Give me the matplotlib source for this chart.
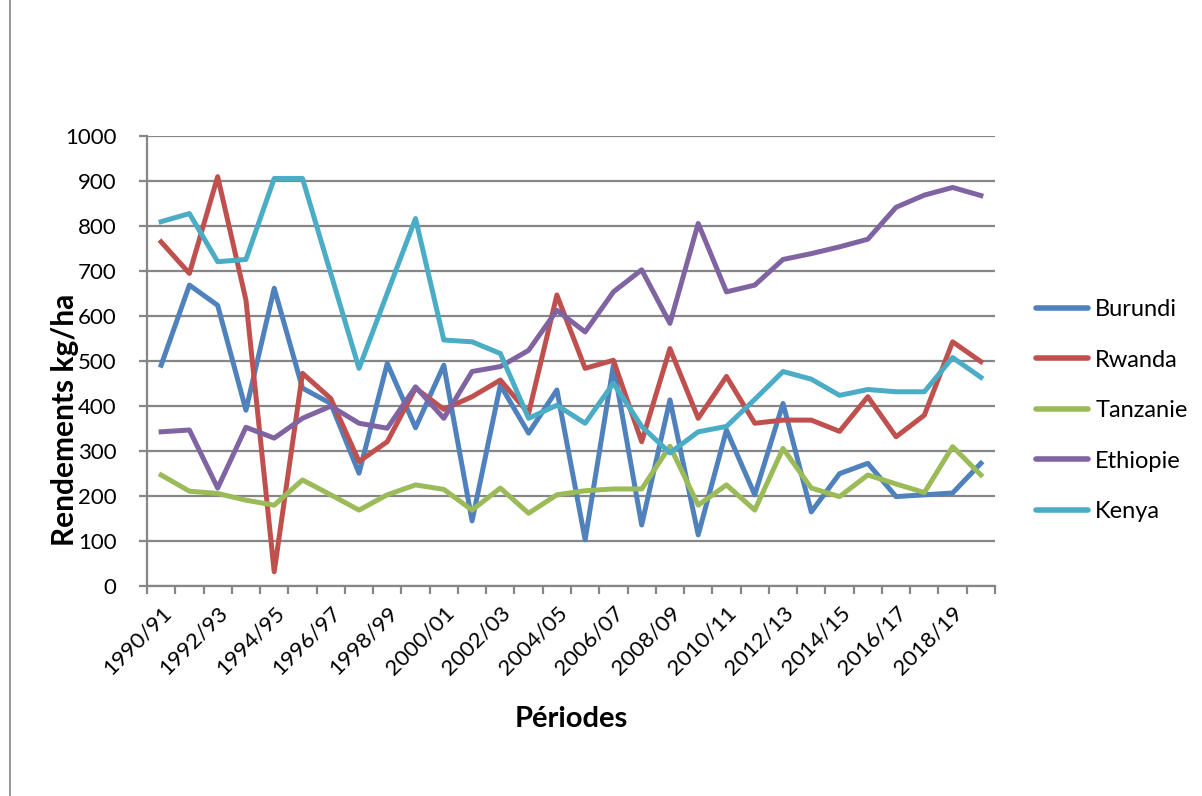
import matplotlib
matplotlib.use("Agg")
import matplotlib.pyplot as plt
from matplotlib.lines import Line2D

plt.rcParams['font.family'] = ['Lato', 'DejaVu Sans']

periodes = [f"{y}/{str(y + 1)[-2:]}" for y in range(1990, 2020)]

burundi = [490, 668, 623, 390, 661, 439, 405, 250, 494, 351,
           490, 144, 446, 339, 435, 102, 490, 135, 413, 113,
           346, 202, 405, 164, 249, 272, 198, 202, 206, 272]
rwanda = [764, 694, 909, 635, 31, 472, 416, 276, 320, 439,
          392, 420, 457, 383, 646, 483, 501, 320, 527, 372,
          465, 361, 368, 368, 343, 420, 331, 379, 542, 498]
tanzanie = [246, 210, 205, 190, 179, 235, 202, 168, 202, 224,
            214, 168, 217, 161, 202, 211, 215, 215, 310, 179,
            224, 168, 305, 217, 198, 246, 226, 207, 309, 246]
ethiopie = [342, 346, 217, 352, 328, 372, 399, 361, 350, 442,
            372, 476, 487, 523, 612, 564, 653, 702, 583, 805,
            653, 668, 725, 738, 753, 770, 841, 868, 885, 867]
kenya = [809, 827, 720, 725, 905, 905, 694, 483, 650, 816,
         546, 542, 516, 372, 401, 361, 450, 354, 295, 342,
         354, 414, 476, 459, 423, 436, 431, 431, 507, 463]

series = [("Burundi", burundi, "#4F81BD"),
          ("Rwanda", rwanda, "#C0504D"),
          ("Tanzanie", tanzanie, "#9BBB59"),
          ("Ethiopie", ethiopie, "#8064A2"),
          ("Kenya", kenya, "#4BACC6")]

grid_col = "#868686"

fig = plt.figure(figsize=(12.02, 7.96), dpi=100)
ax = fig.add_axes([0.1223, 0.2642, 0.7055, 0.5653])

x = list(range(len(periodes)))
for name, vals, col in series:
    ax.plot(x, vals, color=col, lw=3.6, label=name, solid_joinstyle='round')

ax.set_xlim(-0.5, len(periodes) - 0.5)
ax.set_ylim(0, 1000)
ax.set_yticks(range(0, 1001, 100))
ax.yaxis.grid(True, color=grid_col, lw=1.6)
ax.set_axisbelow(True)

for s in ("top", "right"):
    ax.spines[s].set_visible(False)
for s in ("left", "bottom"):
    ax.spines[s].set_color(grid_col)
    ax.spines[s].set_linewidth(1.6)

# minor ticks mark category boundaries, labels sit every second category
ax.set_xticks([i - 0.5 for i in range(len(periodes) + 1)], minor=True)
ax.set_xticks(x[::2])
ax.set_xticklabels(periodes[::2], rotation=45, ha='right', rotation_mode='anchor')
ax.tick_params(axis='x', which='major', length=0, pad=12, labelsize=16)
ax.tick_params(axis='x', which='minor', length=6, width=1.6, color=grid_col)
ax.tick_params(axis='y', length=6, width=1.6, color=grid_col, pad=16, labelsize=16)

ax.set_ylabel("Rendements kg/ha", fontsize=21.5, fontweight='bold')
ax.yaxis.set_label_coords(-0.08, 0.368)
ax.set_xlabel("Périodes", fontsize=21, fontweight='bold', labelpad=20)

handles = [Line2D([], [], color=c, lw=4, solid_capstyle='round') for _, _, c in series]
fig.legend(handles, [n for n, _, _ in series], loc='center left',
           bbox_to_anchor=(0.862, 0.484), frameon=False, fontsize=17,
           handlelength=2.2, labelspacing=1.25, handletextpad=0.3,
           borderaxespad=0, borderpad=0)

# left border of the chart frame
fig.add_artist(Line2D([10 / 1202, 10 / 1202], [0, 1], color=grid_col, lw=1.2))

fig.savefig("out.png", dpi=100)
